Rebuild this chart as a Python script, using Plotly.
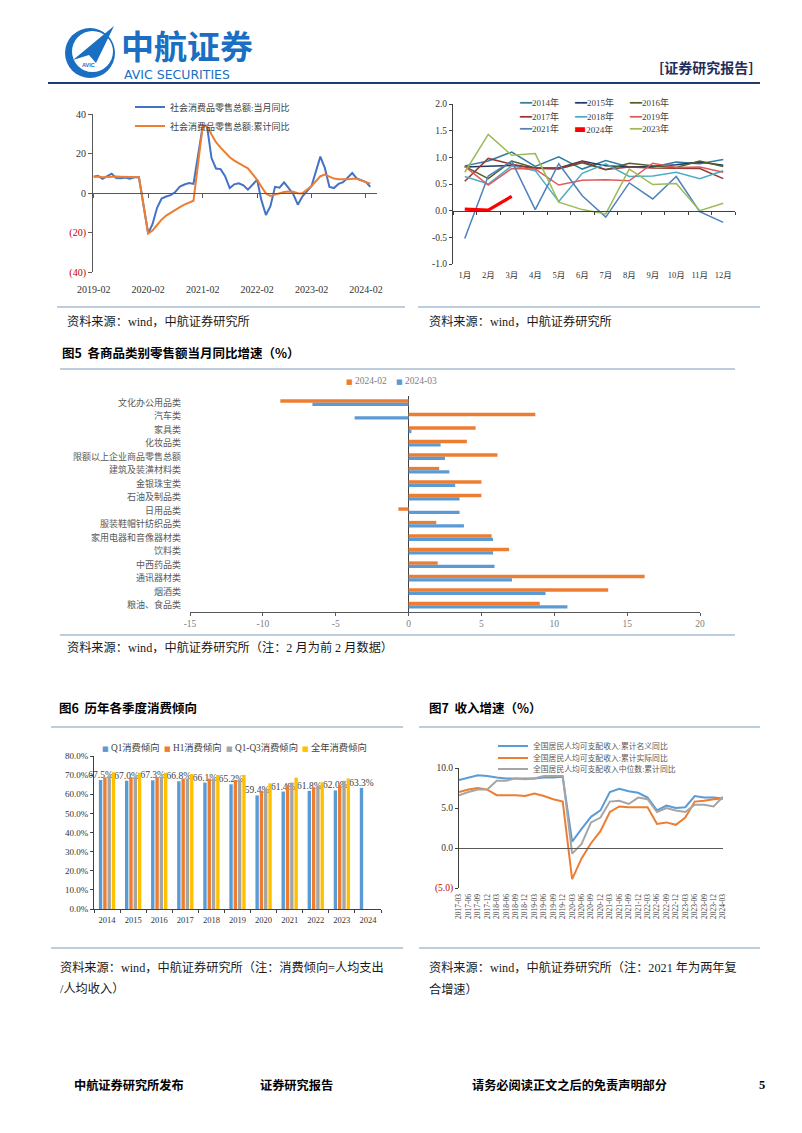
import plotly.graph_objects as go

W, H = 802, 1133
def X(p): return p / W
def Y(p): return 1 - p / H

SERIF = "Liberation Serif, Noto Sans CJK SC, serif"
CJK = "Noto Sans CJK SC, sans-serif"
RED = "#c00000"

# ---------------- Chart 1: 社会消费品零售总额 ----------------
c1_years = [2019, 2020, 2021, 2022, 2023, 2024]
c1_months = [f"{y}-{m:02d}" for y in c1_years for m in range(2, 13) if (y, m) <= (2024, 3)]
c1_monthly = [8.2, 8.7, 7.2, 8.6, 9.8, 7.6, 7.5, 7.8, 7.2, 8.0, 8.0,
              -20.5, -15.8, -7.5, -2.8, -1.8, -1.1, 0.5, 3.3, 4.3, 5.0, 4.6,
              33.8, 34.2, 17.7, 12.4, 12.1, 8.5, 2.5, 4.4, 4.9, 3.9, 1.7,
              6.7, -3.5, -11.1, -6.7, 3.1, 2.7, 5.4, 2.5, -0.5, -5.9, -1.8,
              3.5, 10.6, 18.4, 12.7, 3.1, 2.5, 4.6, 5.5, 7.6, 10.1, 7.4,
              5.5, 3.1]
c1_cumulative = [8.2, 8.3, 8.0, 8.1, 8.4, 8.3, 8.2, 8.2, 8.1, 8.0, 8.0,
                 -20.5, -19.0, -16.2, -13.5, -11.4, -9.9, -8.6, -7.2, -5.9, -4.8, -3.9,
                 33.8, 33.9, 29.6, 25.7, 23.0, 20.7, 18.1, 16.4, 14.9, 13.7, 12.5,
                 6.7, 3.3, -0.2, -1.5, -0.7, -0.2, 0.5, 0.7, 0.6, -0.1, -0.2,
                 3.5, 5.8, 8.5, 9.3, 8.2, 7.3, 7.0, 6.8, 6.9, 7.2, 7.2,
                 5.5, 4.7]
c1_names = ["社会消费品零售总额:当月同比", "社会消费品零售总额:累计同比"]
c1_xticks = ["2019-02", "2020-02", "2021-02", "2022-02", "2023-02", "2024-02"]
c1_yticks = [-40, -20, 0, 20, 40]
c1_yticklabels = ["(40)", "(20)", "0", "20", "40"]

# ---------------- Chart 2: 季调环比 ----------------
c2_months = ["1月", "2月", "3月", "4月", "5月", "6月", "7月", "8月", "9月", "10月", "11月", "12月"]
c2_2014 = [0.84, 0.93, 1.10, 0.83, 1.01, 0.78, 0.94, 0.82, 0.82, 0.91, 0.88, 0.96]
c2_2015 = [0.82, 0.84, 0.85, 0.80, 0.80, 0.93, 0.84, 0.82, 0.83, 0.86, 0.91, 0.85]
c2_2016 = [0.83, 0.60, 0.93, 0.80, 0.78, 0.90, 0.77, 0.89, 0.84, 0.81, 0.93, 0.83]
c2_2017 = [0.55, 0.98, 0.87, 0.79, 0.79, 0.92, 0.77, 0.82, 0.80, 0.80, 0.79, 0.60]
c2_2018 = [0.64, 0.50, 0.84, 0.75, 0.17, 0.70, 0.88, 0.64, 0.65, 0.72, 0.60, 0.75]
c2_2019 = [0.83, 0.48, 0.79, 0.78, 0.48, 0.57, 0.58, 0.56, 0.89, 0.81, 0.82, 0.72]
c2_2021 = [-0.52, 0.65, 0.93, 0.02, 0.88, 0.28, -0.12, 0.52, 0.22, 0.64, -0.02, -0.22]
c2_2023 = [0.72, 1.43, 1.04, 1.07, 0.16, 0.02, -0.06, 0.78, 0.49, 0.51, 0.00, 0.14]
c2_2024 = [0.03, 0.01, 0.27]
c2_yticks = [-1.0, -0.5, 0.0, 0.5, 1.0, 1.5, 2.0]
c2_yticklabels = ["-1.0", "-0.5", "0.0", "0.5", "1.0", "1.5", "2.0"]

# ---------------- Fig5 ----------------
f5_categories = ["文化办公用品类", "汽车类", "家具类", "化妆品类", "限额以上企业商品零售总额",
                 "建筑及装潢材料类", "金银珠宝类", "石油及制品类", "日用品类", "服装鞋帽针纺织品类",
                 "家用电器和音像器材类", "饮料类", "中西药品类", "通讯器材类", "烟酒类", "粮油、食品类"]
f5_feb = [-8.8, 8.7, 4.6, 4.0, 6.1, 2.1, 5.0, 5.0, -0.7, 1.9, 5.7, 6.9, 2.0, 16.2, 13.7, 9.0]
f5_mar = [-6.6, -3.7, 0.2, 2.2, 2.5, 2.8, 3.2, 3.5, 3.5, 3.8, 5.8, 5.8, 5.9, 7.1, 9.4, 10.9]
f5_names = ["2024-02", "2024-03"]
f5_xticks = [-15, -10, -5, 0, 5, 10, 15, 20]
f5_xticklabels = ["-15", "-10", "-5", "0", "5", "10", "15", "20"]

# ---------------- Fig6 ----------------
f6_years = ["2014", "2015", "2016", "2017", "2018", "2019", "2020", "2021", "2022", "2023", "2024"]
f6_q1 = [67.5, 67.0, 67.3, 66.8, 66.1, 65.2, 59.4, 61.4, 61.8, 62.0, 63.3]
f6_h1 = [68.9, 68.9, 69.0, 68.2, 68.2, 67.5, 61.9, 64.9, 63.7, 64.9, None]
f6_q1q3 = [69.4, 68.9, 69.0, 68.2, 68.0, 67.5, 63.1, 66.1, 64.3, 67.0, None]
f6_full = [71.5, 71.3, 71.3, 70.6, 70.1, 70.1, 65.7, 68.7, 66.3, 68.3, None]
f6_names = ["Q1消费倾向", "H1消费倾向", "Q1-Q3消费倾向", "全年消费倾向"]

# ---------------- Fig7 ----------------
f7_quarters = [f"{y}-{m:02d}" for y in range(2017, 2025) for m in (3, 6, 9, 12) if (y, m) <= (2024, 3)]
f7_nominal = [8.5, 8.8, 9.1, 9.0, 8.8, 8.7, 8.7, 8.7, 8.7, 8.8, 8.8, 8.9,
              0.8, 2.4, 3.9, 4.7, 7.0, 7.4, 7.1, 6.9, 6.3, 4.7, 5.3, 5.0,
              5.1, 6.5, 6.3, 6.3, 6.2]
f7_real = [7.0, 7.3, 7.5, 7.3, 6.6, 6.6, 6.6, 6.5, 6.8, 6.5, 6.1, 5.8,
           -3.9, -1.3, 0.6, 2.1, 4.5, 5.2, 5.1, 5.1, 5.1, 3.0, 3.2, 2.9,
           3.8, 5.8, 5.9, 6.1, 6.2]
f7_median = [6.6, 7.0, 7.3, 7.3, 8.4, 8.4, 8.7, 8.6, 8.7, 9.0, 9.0, 9.0,
             -0.7, 0.5, 3.2, 3.8, 5.8, 5.9, 5.5, 6.3, 6.1, 4.5, 5.0, 4.7,
             4.5, 5.4, 5.4, 5.2, 6.4]
f7_names = ["全国居民人均可支配收入:累计名义同比", "全国居民人均可支配收入:累计实际同比",
            "全国居民人均可支配收入中位数:累计同比"]
f7_yticks = [-5, 0, 5, 10]
f7_yticklabels = ["(5.0)", "0.0", "5.0", "10.0"]


def red_neg(vals, labels):
    return [f"<span style='color:{RED}'>{t}</span>" if v < 0 else t for v, t in zip(vals, labels)]


fig = go.Figure()

# Chart 1 traces
for name, vals, col in [(c1_names[0], c1_monthly, "#4472c4"), (c1_names[1], c1_cumulative, "#ed7d31")]:
    fig.add_trace(go.Scatter(x=c1_months, y=vals, name=name, mode="lines",
                             line=dict(color=col, width=2), xaxis="x", yaxis="y", legend="legend"))

# Chart 2 traces
c2_series = [("2014年", c2_2014), ("2015年", c2_2015), ("2016年", c2_2016), ("2017年", c2_2017),
             ("2018年", c2_2018), ("2019年", c2_2019), ("2021年", c2_2021), ("2023年", c2_2023),
             ("2024年", c2_2024)]
c2_colors = {"2014年": "#2f7ea0", "2015年": "#1f3864", "2016年": "#4f6228", "2017年": "#953735",
             "2018年": "#4bacc6", "2019年": "#e05a5a", "2021年": "#4f81bd", "2023年": "#9bbb59",
             "2024年": "#ff0000"}
for name, vals in c2_series:
    w = 3.2 if name == "2024年" else 1.5
    fig.add_trace(go.Scatter(x=c2_months[:len(vals)], y=vals, name=name, mode="lines",
                             line=dict(color=c2_colors[name], width=w), xaxis="x2", yaxis="y2",
                             showlegend=False))

# Fig5 bars
for name, vals, col, off in [(f5_names[0], f5_feb, "#ed7d31", -0.25), (f5_names[1], f5_mar, "#5b9bd5", 0.0)]:
    fig.add_trace(go.Bar(y=f5_categories, x=vals, name=name, orientation="h", width=0.25, offset=off,
                         marker=dict(color=col, line=dict(width=0)), xaxis="x3", yaxis="y3",
                         showlegend=False))

# Fig6 bars
f6_cols = ["#5b9bd5", "#ed7d31", "#a5a5a5", "#ffc000"]
f6_offsets = [-0.3125, -0.1475, 0.0175, 0.1825]
for i, (name, vals) in enumerate(zip(f6_names, [f6_q1, f6_h1, f6_q1q3, f6_full])):
    kw = {}
    if i == 0:
        kw = dict(text=[f"{v:.1f}%" for v in vals], textposition="outside", constraintext="none",
                  textfont=dict(size=9.5, color="#404040", family=SERIF), cliponaxis=False)
    fig.add_trace(go.Bar(x=f6_years, y=vals, name=name, width=0.13, offset=f6_offsets[i],
                         marker=dict(color=f6_cols[i], line=dict(width=0)), xaxis="x4", yaxis="y4",
                         showlegend=False, **kw))

# Fig7 lines
for name, vals, col, lg in [(f7_names[0], f7_nominal, "#5b9bd5", "legend2"),
                            (f7_names[1], f7_real, "#ed7d31", "legend3"),
                            (f7_names[2], f7_median, "#a5a5a5", "legend4")]:
    fig.add_trace(go.Scatter(x=f7_quarters, y=vals, name=name, mode="lines",
                             line=dict(color=col, width=2), xaxis="x5", yaxis="y5", legend=lg))

AX = dict(showgrid=False, zeroline=False, fixedrange=True, automargin=False)
lg_common = dict(bgcolor="rgba(0,0,0,0)", borderwidth=0, xanchor="left", yanchor="middle",
                 orientation="v", tracegroupgap=0)

annotations = []
def note(text, x, y, size=12.2, color="#1a1a1a", family=SERIF, xanchor="left"):
    annotations.append(dict(text=text, x=X(x), y=Y(y), xref="paper", yref="paper", showarrow=False,
                            xanchor=xanchor, yanchor="middle", font=dict(size=size, color=color, family=family)))

# Chart 2 legend (text keys)
c2_legend_order = ["2014年", "2015年", "2016年", "2017年", "2018年", "2019年", "2021年", "2024年", "2023年"]
c2_cols_x = [517, 572, 627]
c2_rows_y = [102, 116, 129]
for i, name in enumerate(c2_legend_order):
    key = "▬" if name == "2024年" else "━━"
    ks = 13 if name == "2024年" else 10
    note(f"<span style='font-family:DejaVu Sans;font-size:{ks}px;color:{c2_colors[name]}'>{key}</span>{name}",
         c2_cols_x[i % 3], c2_rows_y[i // 3], size=9, color="#404040")

# Fig5 legend (text keys)
for name, col, x in [(f5_names[0], "#ed7d31", 344), (f5_names[1], "#5b9bd5", 394)]:
    note(f"<span style='font-family:DejaVu Sans;font-size:7px;color:{col}'>■</span> {name}", x, 381,
         size=9.5, color="#808080")

# Fig6 legend (text keys)
for name, col, x in zip(f6_names, f6_cols, [100, 162, 224, 300]):
    note(f"<span style='font-family:DejaVu Sans;font-size:7px;color:{col}'>■</span> {name}", x, 747,
         size=9.3, color="#404040")

# Captions & titles
note("资料来源：wind，中航证券研究所", 65, 322)
note("资料来源：wind，中航证券研究所", 427, 322)
note("<b>图5  各商品类别零售额当月同比增速（%）</b>", 60, 353, size=12.5, family=CJK, color="#000")
note("资料来源：wind，中航证券研究所（注：2 月为前 2 月数据）", 65, 647)
note("<b>图6  历年各季度消费倾向</b>", 57, 707, size=12.5, family=CJK, color="#000")
note("<b>图7  收入增速（%）</b>", 427, 707, size=12.5, family=CJK, color="#000")
note("资料来源：wind，中航证券研究所（注：消费倾向=人均支出", 58, 967)
note("/人均收入）", 58, 989)
note("资料来源：wind，中航证券研究所（注：2021 年为两年复", 427, 967)
note("合增速）", 427, 989)
# Footer
note("<b>中航证券研究所发布</b>", 72, 1085, size=12.2, family=CJK, color="#000")
note("<b>证券研究报告</b>", 258, 1085, size=12.2, family=CJK, color="#000")
note("<b>请务必阅读正文之后的免责声明部分</b>", 470, 1085, size=12.2, family=CJK, color="#000")
note("<b>5</b>", 757, 1085, size=12.5, color="#000")
# Header
note("<b>中航证券</b>", 119, 45, size=33, family=CJK, color="#1b6fc2")
note("AVIC SECURITIES", 122, 74, size=12.5, family="DejaVu Sans, sans-serif", color="#1b6fc2")
note("<b>[证券研究报告]</b>", 756, 67, size=14, family=CJK, color="#1f2d5c", xanchor="right")
note("<b>AVIC</b>", 80, 65, size=5.5, family="Liberation Sans, sans-serif", color="#1b6fc2")

SEP = "#a9bcd0"
def hline(x0, x1, y, color=SEP, width=1.5):
    return dict(type="line", xref="paper", yref="paper", x0=X(x0), x1=X(x1), y0=Y(y), y1=Y(y),
                line=dict(color=color, width=width))

def pth(points):
    return "M " + " L ".join(f"{X(a):.5f},{Y(b):.5f}" for a, b in points) + " Z"

shapes = [
    hline(48, 760, 83, color="#1f3b73", width=2.2),
    hline(57, 405, 307), hline(418, 760, 307),
    hline(60, 735, 369), hline(60, 735, 635),
    hline(51, 403, 727), hline(419, 760, 727),
    hline(51, 403, 948), hline(419, 760, 948),
    # logo
    dict(type="circle", xref="paper", yref="paper", x0=X(65), x1=X(115), y0=Y(78), y1=Y(28),
         fillcolor="#1b6fc2", line=dict(width=0)),
    dict(type="circle", xref="paper", yref="paper", x0=X(72), x1=X(113), y0=Y(72), y1=Y(31),
         fillcolor="white", line=dict(width=0)),
    dict(type="path", xref="paper", yref="paper",
         path=pth([(73, 60), (114, 26), (96, 63), (89, 55)]), fillcolor="#1b6fc2", line=dict(width=0)),
]

fig.update_layout(
    template="none",
    width=W, height=H, autosize=False, margin=dict(l=0, r=0, t=0, b=0, pad=0, autoexpand=False),
    paper_bgcolor="white", plot_bgcolor="white", hovermode=False,
    font=dict(family=SERIF, size=10, color="#333333"),
    barmode="group",
    # Chart 1
    xaxis=dict(AX, domain=[X(93), X(377)], type="date", range=["2019-01-27", "2024-04-15"],
               anchor="free", position=Y(193), showline=True, linecolor="#595959", linewidth=1,
               ticks="outside", ticklen=4, tickcolor="#595959", tickvals=c1_xticks, ticktext=c1_xticks,
               tickangle=0, ticklabelstandoff=83, tickfont=dict(size=10, color="#333333")),
    yaxis=dict(AX, domain=[Y(272), Y(114)], range=[-40, 40], anchor="x", showline=True,
               linecolor="#595959", ticks="outside", ticklen=4, tickcolor="#595959",
               tickvals=c1_yticks, ticktext=red_neg(c1_yticks, c1_yticklabels),
               tickfont=dict(size=10, color="#333333")),
    # Chart 2
    xaxis2=dict(AX, domain=[X(453), X(735)], type="category", range=[-0.5, 11.5], anchor="free",
                position=Y(211), showline=True, linecolor="#404040", ticks="outside", ticklen=3,
                tickcolor="#404040", tickson="boundaries", ticklabelstandoff=56, tickangle=0,
                tickfont=dict(size=8.5, color="#333333")),
    yaxis2=dict(AX, domain=[Y(264), Y(104)], range=[-1, 2], anchor="x2", showline=True,
                linecolor="#404040", ticks="outside", ticklen=3, tickcolor="#404040",
                tickvals=c2_yticks, ticktext=c2_yticklabels, tickfont=dict(size=9.5, color="#333333")),
    # Fig5
    xaxis3=dict(AX, domain=[X(190), X(700)], range=[-15, 20], anchor="y3", showline=True,
                linecolor="#595959", zeroline=True, zerolinecolor="#404040", zerolinewidth=1,
                ticks="outside", ticklen=3, tickcolor="#595959", tickvals=f5_xticks,
                ticktext=f5_xticklabels, tickfont=dict(size=9.5, color="#808080")),
    yaxis3=dict(AX, domain=[Y(612), Y(396)], type="category", range=[15.5, -0.5], anchor="x3",
                showline=False, ticks="", ticklabelstandoff=8, tickfont=dict(size=9, color="#595959")),
    # Fig6
    xaxis4=dict(AX, domain=[X(94), X(381)], type="category", range=[-0.5, 10.5], anchor="y4",
                showline=True, linecolor="#404040", ticks="outside", ticklen=3, tickcolor="#404040",
                tickson="boundaries", tickangle=0, ticklabelstandoff=3,
                tickfont=dict(size=8.5, color="#333333")),
    yaxis4=dict(AX, domain=[Y(909), Y(756)], range=[0, 80], dtick=10, tickformat=".1f", ticksuffix="%",
                anchor="x4", showline=True, linecolor="#404040", ticks="outside", ticklen=3,
                tickcolor="#404040", tickfont=dict(size=9, color="#333333")),
    # Fig7
    xaxis5=dict(AX, domain=[X(459), X(723)], type="category", range=[0, 28], anchor="free",
                position=Y(848), showline=True, linecolor="#595959", ticks="", tickangle=-90,
                ticklabelstandoff=42, tickfont=dict(size=7.5, color="#404040")),
    yaxis5=dict(AX, domain=[Y(888), Y(768)], range=[-5, 10], anchor="x5", showline=True,
                linecolor="#404040", ticks="outside", ticklen=3, tickcolor="#404040",
                tickvals=f7_yticks, ticktext=red_neg(f7_yticks, f7_yticklabels),
                tickfont=dict(size=9.5, color="#333333")),
    legend=dict(lg_common, x=X(130), y=Y(116.5), font=dict(size=9, color="#404040", family=SERIF)),
    legend2=dict(lg_common, x=X(493), y=Y(746), font=dict(size=7.8, color="#595959", family=SERIF)),
    legend3=dict(lg_common, x=X(493), y=Y(758), font=dict(size=7.8, color="#595959", family=SERIF)),
    legend4=dict(lg_common, x=X(493), y=Y(769), font=dict(size=7.8, color="#595959", family=SERIF)),
    annotations=annotations,
    shapes=shapes,
)

fig.write_html("out.html", config={"displayModeBar": False, "staticPlot": True},
               post_script="document.body.style.margin='0';document.body.style.overflow='hidden';"
                           "document.documentElement.style.overflow='hidden';")
